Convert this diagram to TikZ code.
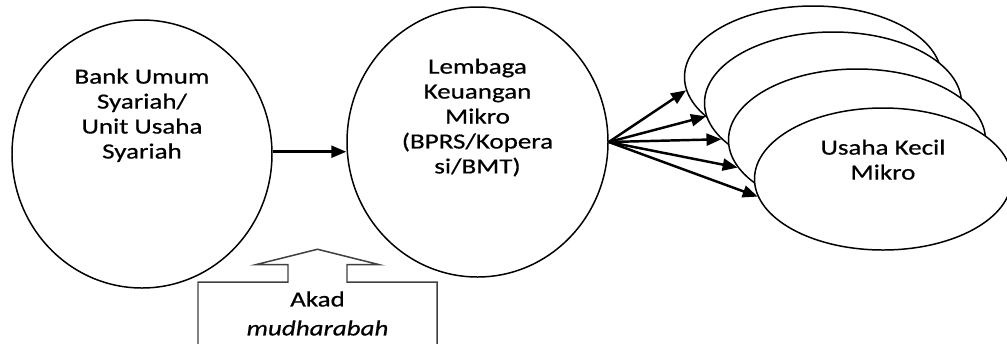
\documentclass[tikz,border=0pt]{standalone}
\usepackage{fontspec}
\setmainfont{Carlito}[FakeStretch=1.25, FakeBold=0.6]
\usepackage{tikz}
\usetikzlibrary{positioning,shapes,shapes.geometric,shapes.arrows,arrows.meta}

\tikzset{
    blob/.style={draw, ellipse, fill=white, line width=0.85pt, inner sep=0pt},
    usk/.style={blob, minimum width=5.14cm, minimum height=2.84cm},
    txt/.style={align=center, inner sep=0pt, font=\fontsize{12.3}{14.2}\selectfont},
    arr/.style={line width=1.4pt, -{Triangle[length=0.3cm, width=0.24cm]}}
}

\begin{document}
\begin{tikzpicture}
    \path[use as bounding box, clip] (0,0) rectangle (20.14,-6.86);

    \node[blob, minimum width=5.2cm, minimum height=5.36cm] (bank) at (2.84,-3.08) {};
    \node[blob, minimum width=5.22cm, minimum height=5.4cm] (lkm) at (9.55,-2.84) {};
    \node[txt, below=0.98cm of bank.north] (bank-txt) {Bank Umum\\Syariah/\\Unit Usaha\\Syariah};
    \node[txt, below=1.04cm of lkm.north] (lkm-txt) {Lembaga\\Keuangan\\Mikro\\(BPRS/Kopera\\si/BMT)};

    \draw[arr] (bank.1) -- (bank.1 -| lkm.west);

    % stacked ellipses, back to front
    \foreach \i/\x/\y in {1/16.26/-1.54, 2/16.66/-2.06, 3/17.14/-2.8, 4/17.66/-3.58}{
        \node[usk] (usk\i) at (\x,\y) {};
    }
    \node[txt, below=0.64cm of usk4.north] (usk-txt) {Usaha Kecil\\Mikro};

    \foreach \n/\a in {usk1/186, usk2/186, usk2/198, usk3/193, usk4/188}{
        \draw[arr] (lkm.east) to (\n.\a);
    }

    \node[draw=black!75, line width=0.85pt, fill=white, arrow box, align=center,
        minimum width=4.78cm, minimum height=1.26cm, inner sep=0pt,
        arrow box arrows={north:0.64cm from border},
        arrow box shaft width=1.18cm, arrow box head extend=0.65cm,
        arrow box head indent=0cm, arrow box tip angle=152,
        font=\fontsize{12.3}{16.5}\selectfont] (akad) at (6.35,-6.27)
        {Akad\\\textit{mudharabah}};
\end{tikzpicture}
\end{document}
